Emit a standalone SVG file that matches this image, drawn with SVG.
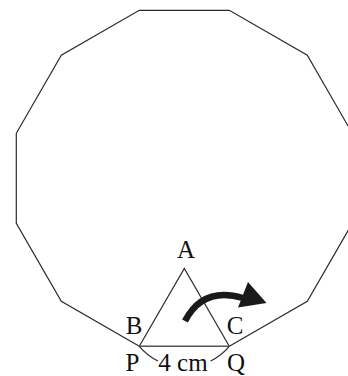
<svg xmlns="http://www.w3.org/2000/svg" width="348" height="376" viewBox="0 0 348 376">
<style>
.ln{fill:none;stroke:#2a2a2a;stroke-width:1.2;stroke-linejoin:miter}
.lbl{font-family:"Liberation Serif","DejaVu Serif",serif;font-size:25px;fill:#111;text-anchor:middle}
</style>
<rect width="348" height="376" fill="#fff"/>
<g id="dodecagon">
<polyline class="ln" points="139.3,346.3 61.3,301.3 16.3,223.3 16.3,133.3 61.3,55.3 139.3,10.3 229.3,10.3 307.3,55.3 352.3,133.3 352.3,223.3 307.3,301.3 229.3,346.3"/>
</g>
<g id="triangle">
<polyline class="ln" points="229.3,346.3 184.3,268.4 139.3,346.3"/>
<line x1="139.3" y1="346.3" x2="229.3" y2="346.3" stroke="#555" stroke-width="1.5"/>
</g>
<g id="dimension">
<path class="ln" d="M139.3,346.3 A59.5,59.5 0 0 0 158,361"/>
<path class="ln" d="M210.6,361 A59.5,59.5 0 0 0 229.3,346.3"/>
<text class="lbl" x="183" y="370.5">4 cm</text>
</g>
<g id="arrow">
<path d="M185,321 Q203,286 243,298" fill="none" stroke="#1a1a1a" stroke-width="6.5"/>
<polygon points="248,282 266.5,303 238,307.5" fill="#1a1a1a"/>
</g>
<g id="labels">
<text class="lbl" x="186" y="257.5">A</text>
<text class="lbl" x="134" y="333.5">B</text>
<text class="lbl" x="235" y="333.5">C</text>
<text class="lbl" x="132.5" y="370.5">P</text>
<text class="lbl" x="236" y="370.5">Q</text>
</g>
</svg>
